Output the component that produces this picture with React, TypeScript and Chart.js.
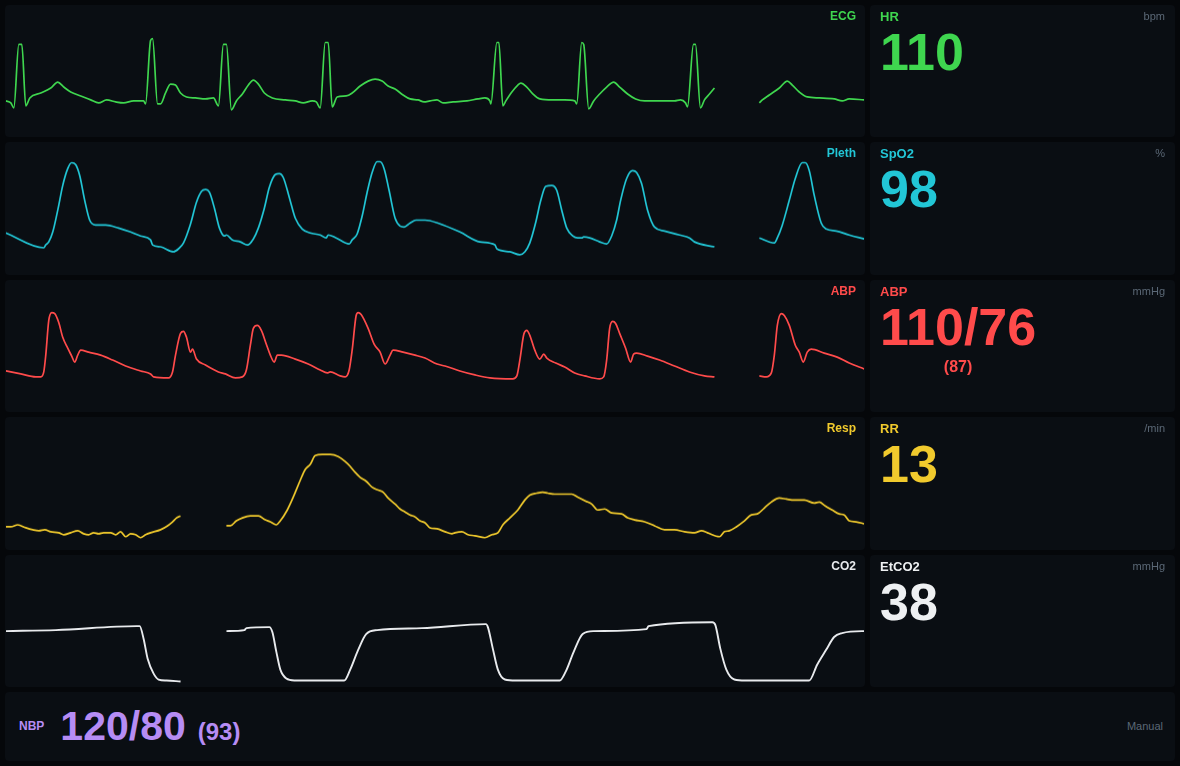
import { useEffect, useRef } from 'react'
import { Chart, registerables } from 'chart.js'

Chart.register(...registerables)

const ecgWave: [number, number | null][] = [
  [0, -1], [5, -3], [8, -8], [13, 56], [16, 56], [20, -6], [24, 2], [35, 7], [45, 12], [52, 18],
  [58, 13], [65, 8], [75, 4], [85, 0], [93, -3], [101, 0], [110, -2], [118, -3], [128, -1], [138, -1],
  [140, -4], [145, 60], [147, 62], [152, -4], [155, -4], [160, 7], [165, 16], [170, 15], [175, 7], [181, 3],
  [190, 2], [200, 1], [208, 2], [213, -6], [218, 56], [221, 56], [226, -10], [231, -1], [237, 6], [243, 15],
  [248, 20], [253, 16], [259, 7], [267, 2], [280, 0], [290, -1], [298, -3], [307, -1], [311, -2], [315, -8],
  [320, 58], [323, 58], [327, -7], [332, 3], [341, 4], [347, 7], [355, 14], [363, 19], [370, 21], [377, 19],
  [383, 14], [390, 11], [398, 5], [405, 1], [413, 0], [419, -2], [425, -1], [432, 0], [438, -3], [448, -2],
  [462, -1], [473, 1], [480, 2], [485, -1], [486, -4], [492, 58], [494, 58], [498, -6], [501, -1], [507, 8],
  [513, 15], [516, 17], [522, 13], [528, 6], [535, 1], [548, 0], [560, 0], [570, -1], [572, -4], [577, 58],
  [579, 56], [584, -9], [589, -1], [595, 6], [602, 13], [609, 18], [615, 13], [623, 6], [631, 1], [640, -1],
  [655, -1], [670, -1], [676, 0], [681, -3], [683, -7], [689, 56], [691, 56], [696, -8], [700, 0], [705, 6],
  [710, 12], [730, null], [755, -3], [758, 0], [765, 5], [775, 12], [783, 19], [788, 15], [795, 8], [803, 3],
  [815, 2], [830, 1], [838, -1], [845, 1], [860, 0],
]

const plethWave: [number, number | null][] = [
  [0, 42], [38, 27], [40, 30], [43, 33], [47, 43], [52, 65], [57, 90], [62, 107], [66, 113], [70, 111],
  [74, 100], [79, 75], [84, 55], [90, 50], [100, 50], [113, 47], [125, 43], [135, 39], [145, 35], [147, 30],
  [155, 28], [168, 23], [173, 26], [178, 32], [185, 51], [191, 73], [196, 84], [200, 86], [204, 83], [209, 67],
  [214, 47], [219, 39], [221, 40], [227, 35], [235, 33], [242, 30], [248, 36], [253, 47], [259, 67], [264, 88],
  [270, 101], [274, 102], [278, 98], [284, 78], [290, 57], [297, 46], [305, 42], [315, 40], [321, 37], [323, 40],
  [331, 37], [344, 31], [347, 35], [352, 41], [357, 59], [362, 83], [367, 103], [372, 114], [375, 114], [379, 107],
  [384, 85], [390, 57], [395, 49], [399, 48], [405, 52], [411, 55], [420, 55], [433, 52], [455, 43], [475, 33],
  [490, 30], [492, 26], [505, 23], [515, 20], [520, 23], [525, 32], [531, 53], [536, 75], [541, 89], [547, 90],
  [552, 85], [557, 65], [562, 47], [568, 39], [573, 37], [577, 37], [579, 38], [585, 37], [595, 33], [602, 31],
  [607, 39], [612, 55], [616, 75], [622, 97], [628, 105], [632, 103], [637, 92], [643, 65], [650, 48], [660, 44],
  [675, 40], [685, 37], [690, 33], [710, 28], [730, null], [755, 37], [770, 32], [773, 37], [778, 50], [785, 75],
  [791, 97], [798, 113], [801, 113], [805, 105], [810, 80], [817, 52], [822, 46], [832, 44], [845, 40], [860, 36],
]

const abpWave: [number, number | null][] = [
  [0, 41], [15, 38], [30, 35], [35, 35], [38, 40], [40, 57], [43, 92], [46, 100], [49, 99], [53, 90],
  [57, 75], [62, 64], [66, 56], [69, 50], [72, 57], [75, 62], [83, 60], [95, 57], [107, 52], [120, 46],
  [135, 41], [145, 38], [148, 35], [163, 34], [167, 40], [170, 57], [175, 79], [178, 81], [181, 75], [185, 60],
  [187, 63], [191, 53], [200, 47], [213, 40], [220, 38], [230, 34], [237, 35], [241, 42], [245, 67], [248, 84],
  [252, 87], [256, 82], [261, 68], [265, 57], [269, 50], [272, 57], [276, 57], [290, 53], [303, 48], [315, 42],
  [322, 39], [325, 40], [335, 36], [340, 35], [344, 42], [347, 62], [351, 97], [353, 100], [356, 98], [363, 84],
  [369, 68], [375, 60], [380, 48], [385, 57], [388, 62], [398, 60], [410, 57], [420, 54], [432, 48], [440, 46],
  [455, 41], [470, 37], [485, 34], [508, 33], [512, 36], [515, 52], [519, 78], [522, 82], [525, 77], [530, 62],
  [535, 53], [539, 58], [542, 54], [551, 49], [560, 45], [570, 39], [580, 36], [595, 33], [599, 35], [602, 52],
  [605, 84], [608, 91], [611, 89], [615, 79], [621, 64], [626, 50], [629, 58], [632, 59], [643, 56], [655, 52],
  [670, 46], [685, 40], [700, 36], [710, 35], [730, null], [755, 36], [762, 35], [767, 39], [770, 57], [773, 87],
  [777, 99], [780, 97], [785, 87], [791, 67], [795, 60], [799, 50], [803, 60], [807, 63], [820, 59], [833, 55],
  [845, 49], [860, 43],
]

const respWave: [number, number | null][] = [
  [0, 23], [5, 23], [12, 25], [20, 22], [27, 20], [33, 19], [39, 20], [45, 18], [53, 17], [58, 15],
  [65, 17], [72, 19], [78, 16], [83, 15], [88, 17], [93, 16], [98, 17], [105, 17], [110, 15], [115, 18],
  [120, 13], [125, 16], [130, 15], [135, 12], [140, 15], [145, 17], [155, 20], [162, 24], [167, 28], [171, 32],
  [175, 34], [198, null], [221, 24], [225, 24], [231, 29], [237, 32], [245, 34], [253, 34], [260, 30], [265, 28],
  [271, 25], [275, 29], [282, 40], [288, 53], [295, 70], [300, 81], [305, 86], [310, 95], [317, 96], [325, 96],
  [333, 94], [340, 89], [345, 84], [350, 78], [355, 73], [361, 69], [367, 63], [373, 60], [378, 58], [383, 52],
  [390, 46], [395, 41], [400, 38], [405, 35], [410, 33], [415, 29], [420, 27], [425, 22], [432, 21], [440, 18],
  [447, 16], [450, 17], [457, 18], [463, 15], [470, 14], [480, 12], [487, 15], [493, 17], [498, 25], [505, 32],
  [513, 40], [520, 50], [525, 55], [532, 57], [538, 58], [543, 57], [550, 56], [558, 56], [567, 56], [573, 53],
  [581, 49], [587, 46], [593, 40], [600, 41], [607, 37], [617, 36], [623, 32], [630, 30], [640, 28], [650, 24],
  [660, 20], [670, 20], [680, 18], [690, 17], [697, 19], [703, 17], [715, 13], [720, 18], [725, 19], [732, 23],
  [740, 29], [747, 35], [753, 36], [760, 42], [767, 48], [775, 52], [782, 51], [790, 50], [800, 50], [810, 47],
  [815, 48], [821, 44], [828, 40], [835, 36], [840, 35], [845, 29], [852, 28], [860, 26],
]

const co2Wave: [number, number | null][] = [
  [0, 57], [50, 58], [131, 62], [134, 62], [138, 49], [142, 29], [148, 14], [153, 8], [161, 7], [175, 6],
  [198, null], [221, 57], [239, 58], [241, 60], [264, 61], [267, 56], [271, 36], [275, 18], [281, 9], [289, 7],
  [339, 7], [345, 18], [353, 38], [361, 54], [372, 58], [417, 60], [481, 64], [483, 61], [488, 39], [493, 18],
  [500, 8], [511, 7], [555, 7], [561, 16], [569, 36], [578, 54], [589, 57], [642, 59], [644, 62], [708, 66],
  [711, 63], [716, 39], [722, 18], [730, 8], [741, 7], [805, 7], [813, 23], [822, 38], [830, 51], [838, 55],
  [858, 57], [860, 57],
]

const sweepLength = 860

const hrValue = '110'
const spo2Value = '98'
const abpValue = '110/76'
const abpMean = '(87)'
const rrValue = '13'
const etco2Value = '38'
const nbpValue = '120/80'
const nbpMean = '(93)'

const font = '"Liberation Sans", Arial, Helvetica, sans-serif'
const panelBg = '#0a0e13'
const unitGray = '#5b6876'

function WavePanel({ name, color, wave, yMin, yMax, row, width = 1.7 }: {
  name: string; color: string; wave: [number, number | null][]; yMin: number; yMax: number; row: number; width?: number
}) {
  const canvasRef = useRef<HTMLCanvasElement>(null)

  useEffect(() => {
    if (!canvasRef.current) return
    const chart = new Chart(canvasRef.current, {
      type: 'line',
      data: {
        datasets: [{
          data: wave.map(([x, y]) => ({ x, y })) as any,
          borderColor: color,
          borderWidth: width,
          pointRadius: 0,
          fill: false,
          spanGaps: false,
          cubicInterpolationMode: 'monotone',
        }],
      },
      options: {
        animation: false,
        responsive: true,
        maintainAspectRatio: false,
        events: [],
        layout: { padding: 0 },
        plugins: { legend: { display: false }, tooltip: { enabled: false } },
        scales: {
          x: { type: 'linear', min: 0, max: sweepLength, display: false },
          y: { min: yMin, max: yMax, display: false },
        },
      },
    })
    return () => chart.destroy()
  }, [])

  return (
    <div style={{ gridColumn: 1, gridRow: row, position: 'relative', background: panelBg, borderRadius: 4, overflow: 'hidden' }}>
      <div style={{ position: 'absolute', inset: 0 }}><canvas ref={canvasRef} /></div>
      <span style={{ position: 'absolute', top: 5, right: 9, color, font: `bold 12px/1 ${font}` }}>{name}</span>
    </div>
  )
}

function NumericPanel({ label, unit, value, sub, color, row }: {
  label: string; unit: string; value: string; sub?: string; color: string; row: number
}) {
  return (
    <div style={{ gridColumn: 2, gridRow: row, position: 'relative', background: panelBg, borderRadius: 4 }}>
      <span style={{ position: 'absolute', left: 10, top: 5, color, font: `bold 13px/1 ${font}` }}>{label}</span>
      <span style={{ position: 'absolute', right: 10, top: 6, color: unitGray, font: `11px/1 ${font}` }}>{unit}</span>
      <div style={{ position: 'absolute', left: 10, top: 21, display: 'flex', flexDirection: 'column', alignItems: 'center' }}>
        <span style={{ color, font: `bold 52px/1 ${font}` }}>{value}</span>
        {sub && <span style={{ color, font: `bold 16px/1 ${font}`, marginTop: 6 }}>{sub}</span>}
      </div>
    </div>
  )
}

export default function App() {
  const nbpColor = '#b68cf4'
  return (
    <div style={{
      position: 'fixed', inset: 0, background: '#05070a', padding: 5, boxSizing: 'border-box',
      display: 'grid', gridTemplateColumns: '1fr 305px', gridTemplateRows: 'repeat(5, 1fr) 69px', gap: 5,
    }}>
      <WavePanel row={1} name="ECG" color="#3fd64f" wave={ecgWave} yMin={-37} yMax={95} />
      <WavePanel row={2} name="Pleth" color="#22c6d6" wave={plethWave} yMin={0} yMax={133} />
      <WavePanel row={3} name="ABP" color="#ff4b4b" wave={abpWave} yMin={0} yMax={132} />
      <WavePanel row={4} name="Resp" color="#f1ca2d" wave={respWave} yMin={0} yMax={133} />
      <WavePanel row={5} name="CO2" color="#e8eaed" wave={co2Wave} yMin={1} yMax={133} width={1.9} />

      <NumericPanel row={1} label="HR" unit="bpm" value={hrValue} color="#3fd64f" />
      <NumericPanel row={2} label="SpO2" unit="%" value={spo2Value} color="#22c6d6" />
      <NumericPanel row={3} label="ABP" unit="mmHg" value={abpValue} sub={abpMean} color="#ff4b4b" />
      <NumericPanel row={4} label="RR" unit="/min" value={rrValue} color="#f1ca2d" />
      <NumericPanel row={5} label="EtCO2" unit="mmHg" value={etco2Value} color="#eef0f2" />

      <div style={{
        gridColumn: '1 / 3', gridRow: 6, background: panelBg, borderRadius: 4,
        display: 'flex', alignItems: 'center', padding: '0 12px 0 14px',
      }}>
        <span style={{ color: nbpColor, font: `bold 12px/1 ${font}`, marginRight: 16 }}>NBP</span>
        <div style={{ display: 'flex', alignItems: 'baseline' }}>
          <span style={{ color: nbpColor, font: `bold 41px/1 ${font}`, marginRight: 12 }}>{nbpValue}</span>
          <span style={{ color: nbpColor, font: `bold 24px/1 ${font}` }}>{nbpMean}</span>
        </div>
        <span style={{ marginLeft: 'auto', color: unitGray, font: `11px/1 ${font}` }}>Manual</span>
      </div>
    </div>
  )
}
